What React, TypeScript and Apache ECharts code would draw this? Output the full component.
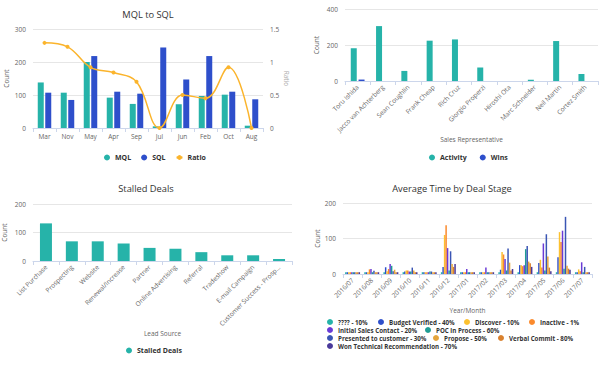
import React, { useEffect, useRef } from "react";
import * as echarts from "echarts";

const monthCats = ["Mar", "Nov", "May", "Apr", "Sep", "Jul", "Jun", "Feb", "Oct", "Aug"];
const mqlValues = [138, 107, 200, 92, 73, 5, 72, 97, 101, 7];
const sqlValues = [107, 85, 218, 110, 104, 244, 147, 218, 110, 87];
const ratioValues = [1.29, 1.23, 0.92, 0.84, 0.7, 0, 0.5, 0.45, 0.92, 0];

const reps = [
  "Toru Ishida", "Jacco van Achterberg", "Sean Coughlin", "Frank Cheap", "Rich Cruz",
  "Giorgio Properzi", "Hiroshi Ota", "Marc Schneider", "Neil Martin", "Cortez Smith",
];
const activityValues = [182, 305, 56, 224, 231, 75, 0, 7, 222, 39];
const winsValues = [8, 0, 0, 0, 0, 0, 0, 0, 0, 0];

const leadSources = [
  "List Purchase", "Prospecting", "Website", "Renewal/Increase", "Partner",
  "Online Advertising", "Referral", "Tradeshow", "E-mail Campaign", "Customer Success - Prosp...",
];
const stalledValues = [132, 69, 69, 61, 46, 43, 31, 20, 20, 7];

const yearMonths = [
  "2016/07", "2016/08", "2016/09", "2016/10", "2016/11", "2016/12",
  "2017/01", "2017/02", "2017/03", "2017/04", "2017/05", "2017/06", "2017/07",
];
const stageNames = [
  "???? - 10%", "Budget Verified - 40%", "Discover - 10%", "Inactive - 1%",
  "Initial Sales Contact - 20%", "POC in Process - 60%", "Presented to customer - 30%",
  "Propose - 50%", "Verbal Commit - 80%", "Won Technical Recommendation - 70%",
];
const stageColors = [
  "#26b3a9", "#2e4fcb", "#fcc12f", "#fb8a2c", "#6a3bd6",
  "#1f9d95", "#3a55b4", "#e4a53c", "#d9812e", "#4a3a9a",
];
const stageValues = [
  [5, 5, 5, 5, 5, 5, 5, 5, 5, 5, 5, 5, 5],
  [5, 5, 19, 7, 5, 20, 5, 5, 12, 25, 31, 47, 5],
  [5, 5, 8, 10, 5, 110, 5, 5, 62, 25, 40, 118, 13],
  [5, 13, 14, 10, 5, 137, 5, 5, 55, 22, 18, 90, 8],
  [5, 14, 28, 7, 5, 73, 14, 18, 42, 25, 86, 122, 33],
  [5, 5, 23, 7, 7, 10, 5, 5, 10, 70, 10, 15, 5],
  [5, 9, 8, 18, 7, 64, 5, 5, 72, 79, 112, 161, 20],
  [5, 5, 12, 10, 5, 28, 5, 5, 32, 35, 49, 23, 5],
  [5, 5, 5, 5, 5, 20, 5, 5, 10, 30, 18, 15, 5],
  [5, 5, 5, 5, 5, 28, 5, 5, 14, 20, 8, 12, 5],
];
// legend placement (icon centre x, row centre y) for each stage item
const stageLegendX = [330, 381, 467, 532, 330, 428, 330, 436, 501, 330];
const stageLegendY = [322, 322, 322, 322, 330, 330, 338, 338, 338, 346];

const FONT = "'Open Sans', sans-serif";
const TEAL = "#26b3a9";
const BLUE = "#2e4fcb";
const RATIO = "#fbb42c";

const axisLabel = { color: "#666", fontSize: 6.5, fontFamily: FONT };
const axisNameStyle = { color: "#666", fontSize: 6.5, fontFamily: FONT };
const legendText = { color: "#333", fontSize: 7, fontWeight: "bold" as const, fontFamily: FONT };

function catAxis(gridIndex: number, data: string[], extra: any = {}) {
  return {
    type: "category",
    gridIndex,
    data,
    axisLine: { lineStyle: { color: "#ccd6eb" } },
    axisTick: { show: true, length: 4, lineStyle: { color: "#ccd6eb" } },
    axisLabel: { ...axisLabel, margin: 5, interval: 0, ...(extra.axisLabel || {}) },
    nameTextStyle: axisNameStyle,
    ...extra.rest,
  };
}

function valAxis(gridIndex: number, max: number, interval: number, extra: any = {}) {
  return {
    type: "value",
    gridIndex,
    min: 0,
    max,
    interval,
    axisLine: { show: false },
    axisTick: { show: false },
    splitLine: { lineStyle: { color: "#e6e6e6" } },
    axisLabel: { ...axisLabel, margin: 7 },
    nameLocation: "middle",
    nameTextStyle: axisNameStyle,
    ...extra,
  };
}

export default function App() {
  const ref = useRef<HTMLDivElement>(null);
  useEffect(() => {
    if (!ref.current) return;
    const chart = echarts.init(ref.current, undefined, { renderer: "svg" });
    const titleStyle = { color: "#333", fontSize: 9.3, fontWeight: "normal" as const, fontFamily: FONT };

    const stageLegends = stageNames.map((n, i) => ({
      left: stageLegendX[i] - 3,
      top: stageLegendY[i] - 3.5,
      padding: 0,
      itemWidth: 6,
      itemHeight: 6,
      itemGap: 4,
      icon: "circle",
      textStyle: { ...legendText, fontSize: 6.2, lineHeight: 7 },
      data: [n],
    }));

    chart.setOption({
      animation: false,
      textStyle: { fontFamily: FONT },
      title: [
        { text: "MQL to SQL", left: 148, top: 10, textAlign: "center", textStyle: titleStyle, padding: 0 },
        { text: "Stalled Deals", left: 146, top: 184, textAlign: "center", textStyle: titleStyle, padding: 0 },
        { text: "Average Time by Deal Stage", left: 452, top: 184, textAlign: "center", textStyle: titleStyle, padding: 0 },
      ],
      legend: [
        {
          left: 99, top: 149, itemWidth: 6, itemHeight: 6, itemGap: 10, textStyle: legendText,
          data: [{ name: "MQL", icon: "circle" }, { name: "SQL", icon: "circle" }, { name: "Ratio" }],
        },
        {
          left: 424, top: 149, itemWidth: 6, itemHeight: 6, itemGap: 13, textStyle: legendText, icon: "circle",
          data: ["Activity", "Wins"],
        },
        {
          left: 121, top: 342, itemWidth: 6, itemHeight: 6, textStyle: legendText, icon: "circle",
          data: ["Stalled Deals"],
        },
        ...stageLegends,
      ],
      grid: [
        { left: 33, top: 29, width: 230, height: 99 },
        { left: 345, top: 9, width: 253, height: 72 },
        { left: 33, top: 204, width: 259, height: 57 },
        { left: 343, top: 203, width: 249, height: 71 },
      ],
      xAxis: [
        catAxis(0, monthCats),
        catAxis(1, reps, {
          axisLabel: { rotate: 45 },
          rest: { name: "Sales Representative", nameLocation: "middle", nameGap: 55 },
        }),
        catAxis(2, leadSources, {
          axisLabel: { rotate: 45 },
          rest: { name: "Lead Source", nameLocation: "middle", nameGap: 68 },
        }),
        catAxis(3, yearMonths, {
          axisLabel: { rotate: 45 },
          rest: { name: "Year/Month", nameLocation: "middle", nameGap: 33 },
        }),
      ],
      yAxis: [
        valAxis(0, 300, 100, { name: "Count", nameGap: 23 }),
        valAxis(0, 1.5, 0.5, {
          position: "right",
          name: "Ratio",
          nameGap: 17,
          nameRotate: -90,
          nameTextStyle: { ...axisNameStyle, color: "#aaa" },
          splitLine: { show: false },
        }),
        valAxis(1, 400, 200, { name: "Count", nameGap: 25 }),
        valAxis(2, 200, 100, { name: "Count", nameGap: 25 }),
        valAxis(3, 200, 100, { name: "Count", nameGap: 22 }),
      ],
      series: [
        { name: "MQL", type: "bar", xAxisIndex: 0, yAxisIndex: 0, data: mqlValues, barWidth: 6, barGap: "25%", itemStyle: { color: TEAL } },
        { name: "SQL", type: "bar", xAxisIndex: 0, yAxisIndex: 0, data: sqlValues, barWidth: 6, barGap: "25%", itemStyle: { color: BLUE } },
        {
          name: "Ratio", type: "line", xAxisIndex: 0, yAxisIndex: 1, data: ratioValues, smooth: 0.4,
          symbol: "circle", symbolSize: 4, lineStyle: { color: RATIO, width: 1.5 }, itemStyle: { color: RATIO },
        },
        { name: "Activity", type: "bar", xAxisIndex: 1, yAxisIndex: 2, data: activityValues, barWidth: 6, barGap: "30%", itemStyle: { color: TEAL } },
        { name: "Wins", type: "bar", xAxisIndex: 1, yAxisIndex: 2, data: winsValues, barWidth: 6, barGap: "30%", itemStyle: { color: BLUE } },
        { name: "Stalled Deals", type: "bar", xAxisIndex: 2, yAxisIndex: 3, data: stalledValues, barWidth: 12, itemStyle: { color: TEAL } },
        ...stageNames.map((n, i) => ({
          name: n,
          type: "bar",
          xAxisIndex: 3,
          yAxisIndex: 4,
          data: stageValues[i],
          barGap: "0%",
          barCategoryGap: "22%",
          itemStyle: { color: stageColors[i] },
        })),
      ],
    });
    return () => chart.dispose();
  }, []);
  return (
    <div
      ref={ref}
      style={{ position: "fixed", left: 0, top: 0, width: 600, height: 370, background: "#fff" }}
    />
  );
}
